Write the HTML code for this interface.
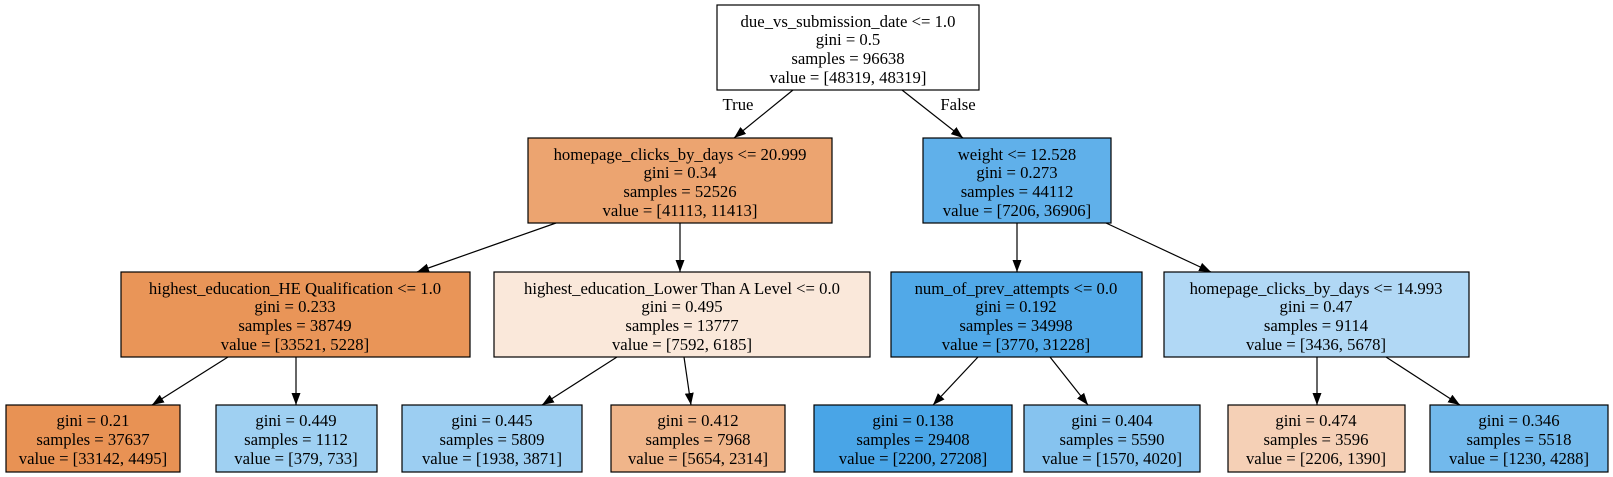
<!DOCTYPE html>
<html><head><meta charset="utf-8"><style>
html,body{margin:0;padding:0;background:#fff;}
svg{display:block;}
text{font-family:"Liberation Serif",serif;font-size:16.7px;fill:#000;}
rect{stroke:#000;stroke-width:1.2;}
line{stroke:#000;stroke-width:1.2;}
</style></head><body>
<svg width="1613" height="477" viewBox="0 0 1613 477" xmlns="http://www.w3.org/2000/svg">
<defs><marker id="a" viewBox="0 0 12 10" refX="12" refY="5" markerWidth="12" markerHeight="10" markerUnits="userSpaceOnUse" orient="auto"><path d="M0,0.5 L12,5 L0,9.5 z" fill="#000"/></marker></defs>

<g>
<line x1="793" y1="90" x2="734" y2="138" marker-end="url(#a)"/>
<line x1="902" y1="90" x2="963" y2="138" marker-end="url(#a)"/>
<line x1="556" y1="223" x2="417" y2="272" marker-end="url(#a)"/>
<line x1="680" y1="223" x2="680" y2="272" marker-end="url(#a)"/>
<line x1="1017" y1="223" x2="1017" y2="272" marker-end="url(#a)"/>
<line x1="1106" y1="223" x2="1211" y2="272" marker-end="url(#a)"/>
<line x1="228" y1="357" x2="152" y2="405" marker-end="url(#a)"/>
<line x1="296" y1="357" x2="296" y2="405" marker-end="url(#a)"/>
<line x1="617" y1="357" x2="542" y2="405" marker-end="url(#a)"/>
<line x1="684" y1="357" x2="691" y2="405" marker-end="url(#a)"/>
<line x1="978" y1="357" x2="933" y2="405" marker-end="url(#a)"/>
<line x1="1050" y1="357" x2="1088" y2="405" marker-end="url(#a)"/>
<line x1="1317" y1="357" x2="1317" y2="405" marker-end="url(#a)"/>
<line x1="1386" y1="357" x2="1460" y2="405" marker-end="url(#a)"/>
</g>
<text x="738" y="110" text-anchor="middle">True</text>
<text x="958" y="110" text-anchor="middle">False</text>

<g text-anchor="middle">
<rect x="717" y="5" width="262" height="85" fill="#ffffff"/>
<text x="848" y="27">due_vs_submission_date &lt;= 1.0</text>
<text x="848" y="45">gini = 0.5</text>
<text x="848" y="64">samples = 96638</text>
<text x="848" y="83">value = [48319, 48319]</text>

<rect x="528" y="138" width="304" height="85" fill="#eca470"/>
<text x="680" y="160">homepage_clicks_by_days &lt;= 20.999</text>
<text x="680" y="178">gini = 0.34</text>
<text x="680" y="197">samples = 52526</text>
<text x="680" y="216">value = [41113, 11413]</text>

<rect x="923" y="138" width="188" height="85" fill="#60b0ea"/>
<text x="1017" y="160">weight &lt;= 12.528</text>
<text x="1017" y="178">gini = 0.273</text>
<text x="1017" y="197">samples = 44112</text>
<text x="1017" y="216">value = [7206, 36906]</text>

<rect x="121" y="272" width="349" height="85" fill="#e99558"/>
<text x="295" y="294">highest_education_HE Qualification &lt;= 1.0</text>
<text x="295" y="312">gini = 0.233</text>
<text x="295" y="331">samples = 38749</text>
<text x="295" y="350">value = [33521, 5228]</text>

<rect x="494" y="272" width="376" height="85" fill="#fae8da"/>
<text x="682" y="294">highest_education_Lower Than A Level &lt;= 0.0</text>
<text x="682" y="312">gini = 0.495</text>
<text x="682" y="331">samples = 13777</text>
<text x="682" y="350">value = [7592, 6185]</text>

<rect x="891" y="272" width="251" height="85" fill="#51a9e8"/>
<text x="1016" y="294">num_of_prev_attempts &lt;= 0.0</text>
<text x="1016" y="312">gini = 0.192</text>
<text x="1016" y="331">samples = 34998</text>
<text x="1016" y="350">value = [3770, 31228]</text>

<rect x="1164" y="272" width="305" height="85" fill="#b1d8f5"/>
<text x="1316" y="294">homepage_clicks_by_days &lt;= 14.993</text>
<text x="1316" y="312">gini = 0.47</text>
<text x="1316" y="331">samples = 9114</text>
<text x="1316" y="350">value = [3436, 5678]</text>

<rect x="6" y="405" width="174" height="67" fill="#e89254"/>
<text x="93" y="426">gini = 0.21</text>
<text x="93" y="445">samples = 37637</text>
<text x="93" y="464">value = [33142, 4495]</text>

<rect x="216" y="405" width="161" height="67" fill="#9fd0f2"/>
<text x="296" y="426">gini = 0.449</text>
<text x="296" y="445">samples = 1112</text>
<text x="296" y="464">value = [379, 733]</text>

<rect x="402" y="405" width="180" height="67" fill="#9ccef2"/>
<text x="492" y="426">gini = 0.445</text>
<text x="492" y="445">samples = 5809</text>
<text x="492" y="464">value = [1938, 3871]</text>

<rect x="611" y="405" width="174" height="67" fill="#f0b58a"/>
<text x="698" y="426">gini = 0.412</text>
<text x="698" y="445">samples = 7968</text>
<text x="698" y="464">value = [5654, 2314]</text>

<rect x="814" y="405" width="198" height="67" fill="#49a5e7"/>
<text x="913" y="426">gini = 0.138</text>
<text x="913" y="445">samples = 29408</text>
<text x="913" y="464">value = [2200, 27208]</text>

<rect x="1024" y="405" width="176" height="67" fill="#86c3ef"/>
<text x="1112" y="426">gini = 0.404</text>
<text x="1112" y="445">samples = 5590</text>
<text x="1112" y="464">value = [1570, 4020]</text>

<rect x="1228" y="405" width="177" height="67" fill="#f5d0b6"/>
<text x="1316" y="426">gini = 0.474</text>
<text x="1316" y="445">samples = 3596</text>
<text x="1316" y="464">value = [2206, 1390]</text>

<rect x="1430" y="405" width="178" height="67" fill="#72b9ec"/>
<text x="1519" y="426">gini = 0.346</text>
<text x="1519" y="445">samples = 5518</text>
<text x="1519" y="464">value = [1230, 4288]</text>
</g>
</svg>
</body></html>
